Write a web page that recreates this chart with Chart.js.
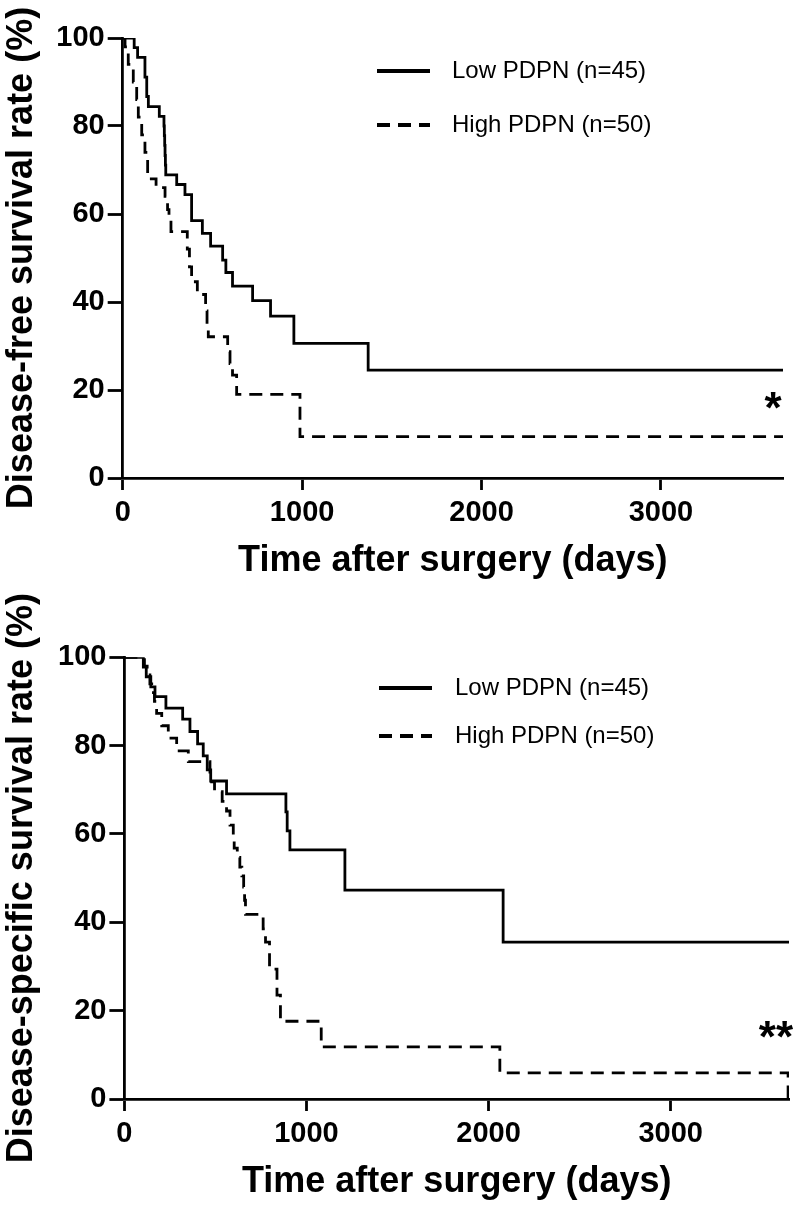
<!DOCTYPE html>
<html>
<head>
<meta charset="utf-8">
<title>PDPN survival curves</title>
<script src="https://cdn.jsdelivr.net/npm/chart.js@4.4.1/dist/chart.umd.min.js"></script>
<style>
  body { margin: 0; background: #fff; }
  #wrap { position: relative; width: 794px; height: 1207px; }
  canvas { position: absolute; left: 0; }
  #dfs { top: 0; }
  #dss { top: 590px; }
</style>
</head>
<body>
<div id="wrap">
  <canvas id="dfs" width="794" height="590"></canvas>
  <canvas id="dss" width="794" height="617"></canvas>
</div>
<script>
// Kaplan-Meier steps (days, % surviving)

// disease-free survival
const lowDfsDays = [0, 64, 83, 124, 134, 143, 204, 230, 232, 234, 236, 238, 240, 301, 347, 384, 444, 490, 557, 575, 612, 724, 824, 954, 1368, 3680];
const lowDfsRate = [100, 97.8, 95.6, 91.1, 86.7, 84.4, 82.2, 80.0, 77.8, 75.6, 73.3, 71.1, 68.9, 66.7, 64.4, 58.5, 55.6, 52.7, 49.5, 46.7, 43.6, 40.3, 36.8, 30.6, 24.5, 24.5];
const highDfsDays = [0, 13, 31, 59, 78, 87, 106, 124, 139, 186, 236, 250, 258, 269, 360, 372, 384, 416, 462, 470, 477, 585, 598, 612, 635, 988, 3680];
const highDfsRate = [100, 98, 94, 90, 86, 82, 78, 74, 68, 66, 64, 61, 59, 56, 52, 48, 44.6, 41.7, 38, 35, 32.1, 28.7, 26, 23.4, 19, 9.4, 9.4];

// disease-specific survival
const lowDssDays = [0, 104, 120, 145, 168, 228, 320, 360, 402, 433, 455, 474, 561, 887, 894, 909, 1211, 2080, 3650];
const lowDssRate = [100, 97.8, 95.6, 93.3, 91.1, 88.5, 86.0, 83.2, 80.4, 77.7, 74.5, 72.0, 69.1, 65.0, 60.7, 56.4, 47.3, 35.5, 35.5];
const highDssDays = [0, 110, 125, 140, 150, 165, 177, 205, 241, 287, 351, 470, 479, 495, 537, 561, 580, 598, 603, 620, 634, 645, 655, 660, 665, 762, 775, 797, 838, 857, 1081, 2062, 3645];
const highDssRate = [100, 98, 96, 94, 92, 90, 87.3, 84.5, 81.7, 78.8, 76.4, 74, 71.8, 69.6, 67.4, 65.2, 62.0, 59.5, 56.8, 54.7, 52.5, 50.5, 48.0, 45.0, 41.8, 38.5, 35.5, 29.4, 23.5, 17.6, 11.8, 5.9, 0];

const groupLabels = ['Low PDPN (n=45)', 'High PDPN (n=50)'];
const xTickValues = [0, 1000, 2000, 3000];
const yTickValues = [0, 20, 40, 60, 80, 100];

// significance marks: [text, day, %]
const dfsSig = ['*', 3625, 15.2];
const dssSig = ['**', 3578, 13.4];

const FONT = "'Liberation Sans', Arial, Helvetica, sans-serif";
Chart.defaults.font.family = FONT;
Chart.defaults.color = '#000';

function toPoints(days, rates) {
  return days.map((d, i) => ({ x: d, y: rates[i] }));
}

function fixedTicks(values) {
  return s => { s.ticks = values.map(v => ({ value: v })); };
}

const kmLegend = {
  id: 'kmLegend',
  afterDraw(chart, args, opts) {
    const ctx = chart.ctx;
    ctx.save();
    chart.data.datasets.forEach((ds, i) => {
      const y = opts.rows[i];
      ctx.beginPath();
      ctx.lineWidth = 4;
      ctx.strokeStyle = '#000';
      ctx.setLineDash(ds.borderDash || []);
      ctx.moveTo(opts.x, y);
      ctx.lineTo(opts.x + opts.sampleWidth, y);
      ctx.stroke();
      ctx.setLineDash([]);
      ctx.fillStyle = '#000';
      ctx.font = '24px ' + FONT;
      ctx.textBaseline = 'middle';
      ctx.textAlign = 'left';
      ctx.fillText(ds.label, opts.textX, y);
    });
    ctx.restore();
  }
};

const sigMark = {
  id: 'sigMark',
  afterDraw(chart, args, opts) {
    const ctx = chart.ctx;
    const sx = chart.scales.x, sy = chart.scales.y;
    ctx.save();
    ctx.fillStyle = '#000';
    ctx.font = 'bold 44px ' + FONT;
    ctx.textAlign = 'center';
    ctx.textBaseline = 'middle';
    ctx.fillText(opts.mark[0], sx.getPixelForValue(opts.mark[1]), sy.getPixelForValue(opts.mark[2]));
    ctx.restore();
  }
};

function makeKm(id, opt) {
  const lineW = 2.8;
  return new Chart(document.getElementById(id), {
    type: 'line',
    data: {
      datasets: [
        {
          label: groupLabels[0],
          data: toPoints(opt.low[0], opt.low[1]),
          borderColor: '#000',
          borderWidth: lineW,
          stepped: 'before',
          pointRadius: 0,
          fill: false
        },
        {
          label: groupLabels[1],
          data: toPoints(opt.high[0], opt.high[1]),
          borderColor: '#000',
          borderWidth: lineW,
          borderDash: [13, 8],
          stepped: 'before',
          pointRadius: 0,
          fill: false
        }
      ]
    },
    options: {
      responsive: false,
      animation: false,
      layout: { padding: opt.padding },
      plugins: {
        legend: { display: false },
        tooltip: { enabled: false },
        kmLegend: opt.legend,
        sigMark: { mark: opt.sig }
      },
      scales: {
        x: {
          type: 'linear',
          min: 0,
          max: opt.xMax,
          afterBuildTicks: fixedTicks(xTickValues),
          border: { display: true, color: '#000', width: lineW },
          grid: { drawOnChartArea: false, drawTicks: true, tickLength: 12, tickWidth: lineW, tickColor: '#000' },
          ticks: { maxRotation: 0, autoSkip: false, padding: 6, callback: v => String(v),
                   font: { size: 29, weight: 'bold' }, color: '#000' },
          title: { display: true, text: 'Time after surgery (days)', padding: 0,
                   font: { size: 36, weight: 'bold' }, color: '#000' },
          afterFit: s => { s.height = 104.6; }
        },
        y: {
          min: 0,
          max: 100,
          afterBuildTicks: fixedTicks(yTickValues),
          border: { display: true, color: '#000', width: lineW },
          grid: { drawOnChartArea: false, drawTicks: true, tickLength: 15, tickWidth: lineW, tickColor: '#000' },
          ticks: { padding: 3, callback: v => String(v), font: { size: 29, weight: 'bold' }, color: '#000' },
          title: { display: true, text: opt.yTitle, padding: 0,
                   font: { size: 36, weight: 'bold' }, color: '#000' },
          afterFit: s => { s.width = opt.yWidth; }
        }
      }
    },
    plugins: [kmLegend, sigMark]
  });
}

makeKm('dfs', {
  low: [lowDfsDays, lowDfsRate],
  high: [highDfsDays, highDfsRate],
  xMax: 3680,
  yTitle: 'Disease-free survival rate (%)',
  yWidth: 122.7,
  padding: { top: 38, right: 11, bottom: 7.4, left: 0 },
  legend: { x: 377, sampleWidth: 53, textX: 452, rows: [71, 125] },
  sig: dfsSig
});

makeKm('dss', {
  low: [lowDssDays, lowDssRate],
  high: [highDssDays, highDssRate],
  xMax: 3650,
  yTitle: 'Disease-specific survival rate (%)',
  yWidth: 124.4,
  padding: { top: 67.3, right: 5, bottom: 3.4, left: 0 },
  legend: { x: 379, sampleWidth: 53, textX: 455, rows: [98, 146] },
  sig: dssSig
});
</script>
</body>
</html>
